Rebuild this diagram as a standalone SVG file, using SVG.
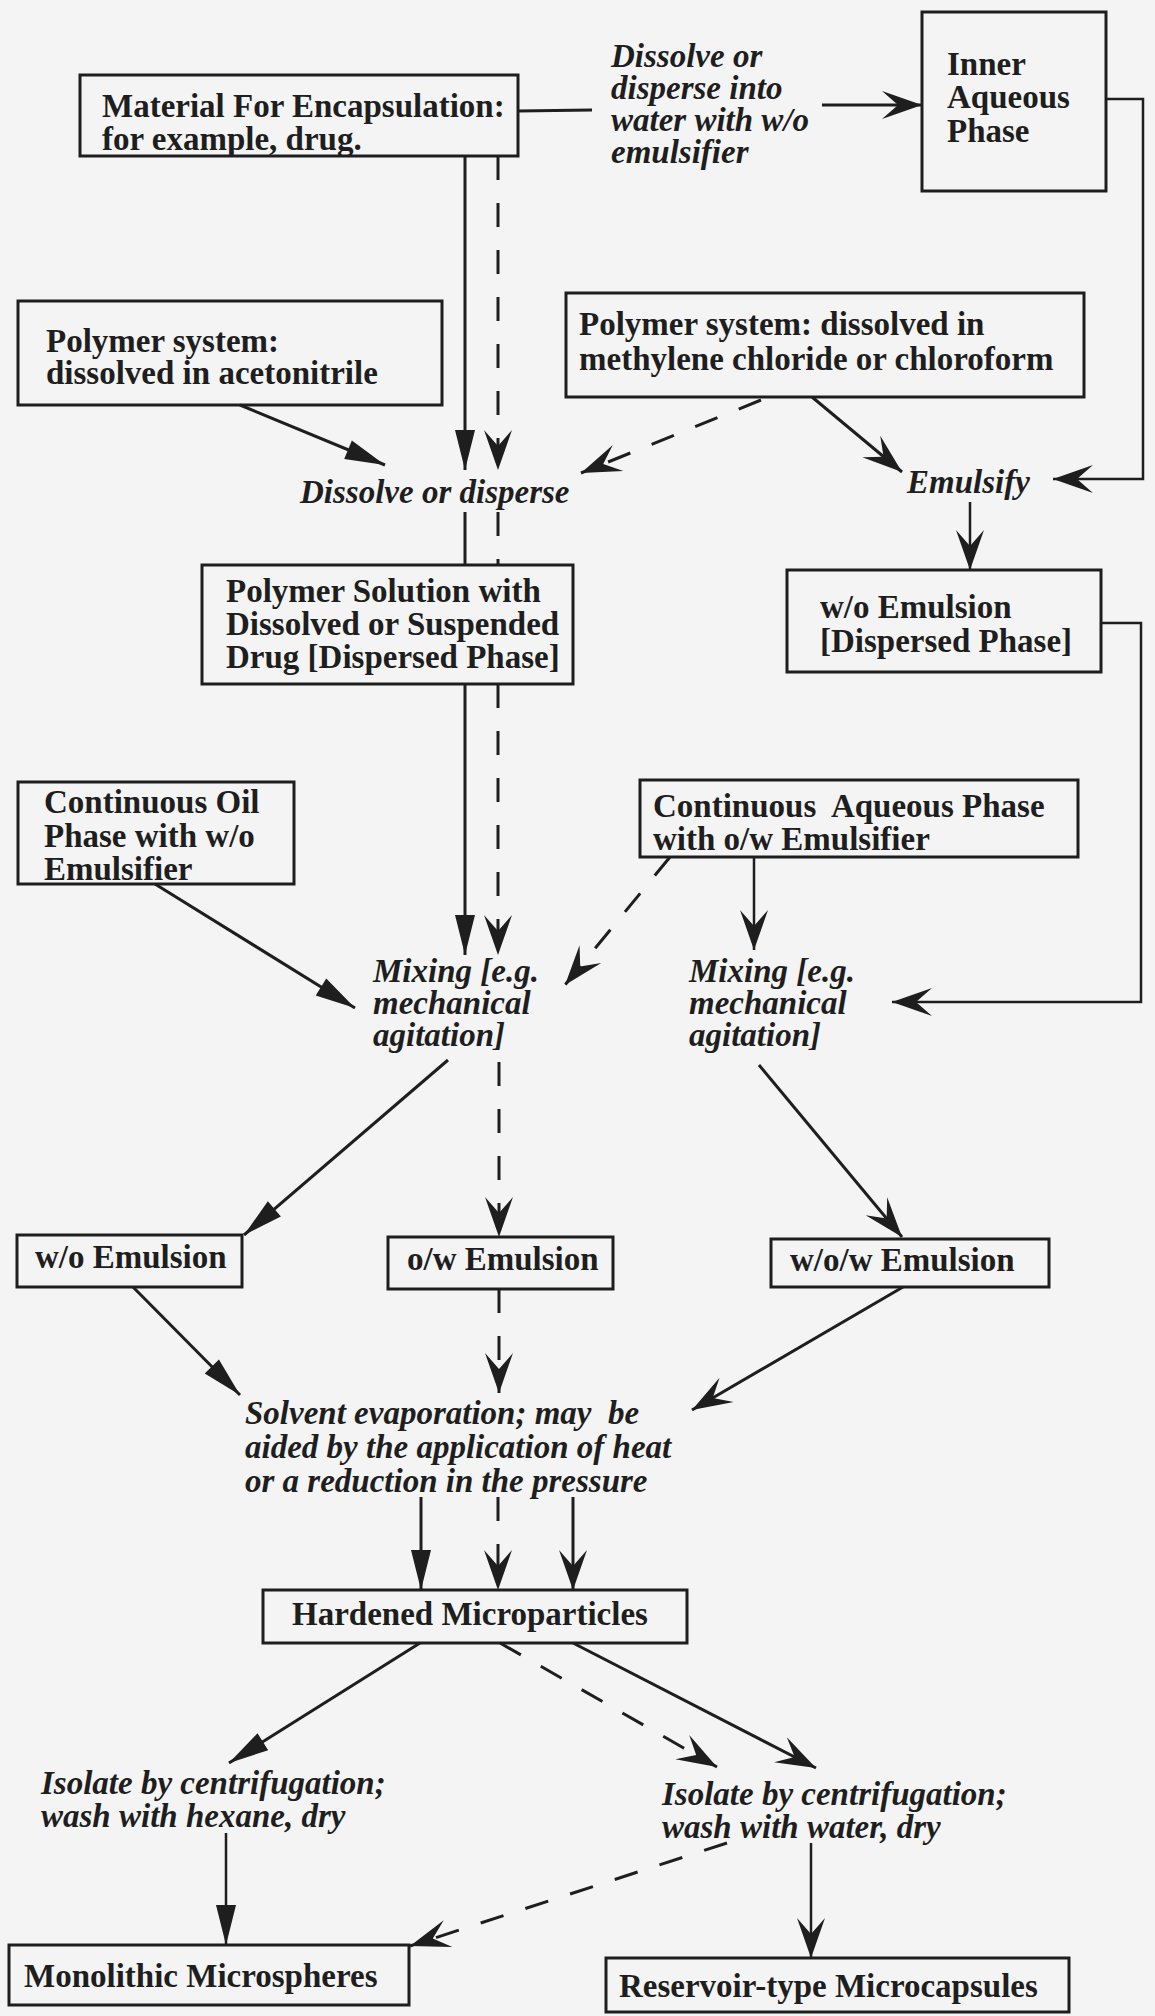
<svg xmlns="http://www.w3.org/2000/svg" width="1155" height="2016" viewBox="0 0 1155 2016">
<style>
.box{fill:none;stroke:#1e1e1e;stroke-width:3}
.b{font-family:"Liberation Serif","Times New Roman",serif;font-weight:bold;font-size:33px;fill:#1e1e1e}
.bi{font-family:"Liberation Serif","Times New Roman",serif;font-weight:bold;font-style:italic;font-size:33px;fill:#1e1e1e}
.ln{fill:none;stroke:#1e1e1e;stroke-width:3}
.thin{stroke-width:2.5}
.dash{stroke-dasharray:24 23}
.tri{marker-end:url(#tri)}
.barb{marker-end:url(#barb)}
</style>
<defs>
<marker id="tri" markerUnits="userSpaceOnUse" markerWidth="44" markerHeight="26" viewBox="-42 -13 44 26" refX="0" refY="0" orient="auto"><path d="M0,0 L-40,-10 L-40,10 Z" fill="#1e1e1e"/></marker>
<marker id="barb" markerUnits="userSpaceOnUse" markerWidth="44" markerHeight="32" viewBox="-42 -16 44 32" refX="0" refY="0" orient="auto"><path d="M0,0 L-40,-14 L-24,0 L-40,14 Z" fill="#1e1e1e"/></marker>
</defs>
<rect x="0" y="0" width="1155" height="2016" fill="#f4f4f4"/>

<g id="connectors">
<polyline class="ln" points="518,111 592,110"/>
<line class="ln barb" x1="822" y1="105" x2="922" y2="105"/>
<polyline class="ln thin barb" points="1106,99 1143,99 1143,479 1053,479"/>
<line class="ln tri" x1="465" y1="156" x2="465" y2="470"/>
<line class="ln dash barb" x1="498" y1="156" x2="498" y2="470"/>
<line class="ln tri" x1="240" y1="405" x2="385" y2="465"/>
<line class="ln dash barb" x1="761" y1="400" x2="581" y2="473"/>
<line class="ln barb" x1="812" y1="397" x2="902" y2="472"/>
<line class="ln thin barb" x1="970" y1="502" x2="970" y2="570"/>
<line class="ln" x1="465" y1="512" x2="465" y2="565"/>
<line class="ln dash" x1="498" y1="512" x2="498" y2="565"/>
<polyline class="ln thin barb" points="1101,623 1141,623 1141,1002 892,1002"/>
<line class="ln tri" x1="465" y1="684" x2="465" y2="955"/>
<line class="ln dash barb" x1="498" y1="684" x2="498" y2="955"/>
<line class="ln tri" x1="155" y1="884" x2="355" y2="1008"/>
<line class="ln dash barb" x1="670" y1="857" x2="565" y2="985"/>
<line class="ln thin barb" x1="754" y1="857" x2="754" y2="950"/>
<line class="ln tri" x1="448" y1="1060" x2="244" y2="1235"/>
<line class="ln barb" x1="759" y1="1065" x2="902" y2="1237"/>
<line class="ln dash barb" x1="499" y1="1062" x2="499" y2="1237"/>
<line class="ln tri" x1="133" y1="1287" x2="240" y2="1395"/>
<line class="ln dash barb" x1="499" y1="1289" x2="499" y2="1393"/>
<line class="ln barb" x1="903" y1="1287" x2="692" y2="1410"/>
<line class="ln tri" x1="421" y1="1497" x2="421" y2="1590"/>
<line class="ln dash barb" x1="498" y1="1497" x2="498" y2="1590"/>
<line class="ln barb" x1="573" y1="1497" x2="573" y2="1590"/>
<line class="ln tri" x1="420" y1="1643" x2="229" y2="1763"/>
<line class="ln dash barb" x1="500" y1="1643" x2="717" y2="1767"/>
<line class="ln barb" x1="573" y1="1643" x2="816" y2="1768"/>
<line class="ln thin tri" x1="226" y1="1833" x2="226" y2="1945"/>
<line class="ln thin barb" x1="811" y1="1843" x2="811" y2="1958"/>
<line class="ln dash barb" x1="727" y1="1843" x2="410" y2="1946"/>
</g>

<g id="material">
<rect class="box" x="80" y="75" width="438" height="81"/>
<text class="b" x="102" y="117" font-size="32">Material For Encapsulation:</text>
<text class="b" x="102" y="150" font-size="32">for example, drug.</text>
</g>

<g id="label-dissolve-water">
<text class="bi" x="611" y="67">Dissolve or</text>
<text class="bi" x="611" y="99">disperse into</text>
<text class="bi" x="611" y="131">water with w/o</text>
<text class="bi" x="611" y="163">emulsifier</text>
</g>

<g id="inner-aqueous">
<rect class="box" x="922" y="12" width="184" height="179"/>
<text class="b" x="947" y="75">Inner</text>
<text class="b" x="947" y="108">Aqueous</text>
<text class="b" x="947" y="142">Phase</text>
</g>

<g id="polymer-acetonitrile">
<rect class="box" x="18" y="301" width="424" height="104"/>
<text class="b" x="46" y="352">Polymer system:</text>
<text class="b" x="46" y="384">dissolved in acetonitrile</text>
</g>

<g id="polymer-chloride">
<rect class="box" x="566" y="293" width="518" height="104"/>
<text class="b" x="579" y="335">Polymer system: dissolved in</text>
<text class="b" x="579" y="370" font-size="33.6">methylene chloride or chloroform</text>
</g>

<g id="dissolve-disperse">
<text class="bi" x="300" y="503">Dissolve or disperse</text>
</g>

<g id="emulsify">
<text class="bi" x="907" y="493">Emulsify</text>
</g>

<g id="polymer-solution">
<rect class="box" x="202" y="565" width="371" height="119"/>
<text class="b" x="226" y="602">Polymer Solution with</text>
<text class="b" x="226" y="635">Dissolved or Suspended</text>
<text class="b" x="226" y="668">Drug [Dispersed Phase]</text>
</g>

<g id="wo-emulsion-dispersed">
<rect class="box" x="787" y="570" width="314" height="102"/>
<text class="b" x="820" y="618">w/o Emulsion</text>
<text class="b" x="820" y="652">[Dispersed Phase]</text>
</g>

<g id="continuous-oil">
<rect class="box" x="18" y="782" width="276" height="102"/>
<text class="b" x="44" y="813">Continuous Oil</text>
<text class="b" x="44" y="847">Phase with w/o</text>
<text class="b" x="44" y="880">Emulsifier</text>
</g>

<g id="continuous-aqueous">
<rect class="box" x="640" y="780" width="438" height="77"/>
<text class="b" x="653" y="817" style="white-space:pre">Continuous  Aqueous Phase</text>
<text class="b" x="653" y="850">with o/w Emulsifier</text>
</g>

<g id="mixing-left">
<text class="bi" x="373" y="982" font-size="31">Mixing [e.g.</text>
<text class="bi" x="373" y="1014" font-size="31">mechanical</text>
<text class="bi" x="373" y="1046" font-size="31">agitation]</text>
</g>

<g id="mixing-right">
<text class="bi" x="689" y="982" font-size="31">Mixing [e.g.</text>
<text class="bi" x="689" y="1014" font-size="31">mechanical</text>
<text class="bi" x="689" y="1046" font-size="31">agitation]</text>
</g>

<g id="wo-emulsion">
<rect class="box" x="17" y="1235" width="225" height="52"/>
<text class="b" x="35" y="1268">w/o Emulsion</text>
</g>

<g id="ow-emulsion">
<rect class="box" x="388" y="1237" width="225" height="52"/>
<text class="b" x="407" y="1270">o/w Emulsion</text>
</g>

<g id="wow-emulsion">
<rect class="box" x="771" y="1239" width="278" height="48"/>
<text class="b" x="790" y="1271">w/o/w Emulsion</text>
</g>

<g id="solvent-evaporation">
<text class="bi" x="245" y="1424" font-size="34" style="white-space:pre">Solvent evaporation; may  be</text>
<text class="bi" x="245" y="1458" font-size="34">aided by the application of heat</text>
<text class="bi" x="245" y="1492" font-size="34">or a reduction in the pressure</text>
</g>

<g id="hardened">
<rect class="box" x="263" y="1590" width="424" height="53"/>
<text class="b" x="292" y="1625">Hardened Microparticles</text>
</g>

<g id="isolate-hexane">
<text class="bi" x="41" y="1794">Isolate by centrifugation;</text>
<text class="bi" x="41" y="1827">wash with hexane, dry</text>
</g>

<g id="isolate-water">
<text class="bi" x="662" y="1805">Isolate by centrifugation;</text>
<text class="bi" x="662" y="1838">wash with water, dry</text>
</g>

<g id="monolithic">
<rect class="box" x="9" y="1945" width="400" height="60"/>
<text class="b" x="24" y="1987">Monolithic Microspheres</text>
</g>

<g id="reservoir">
<rect class="box" x="606" y="1958" width="463" height="54"/>
<text class="b" x="619" y="1997">Reservoir-type Microcapsules</text>
</g>
</svg>
